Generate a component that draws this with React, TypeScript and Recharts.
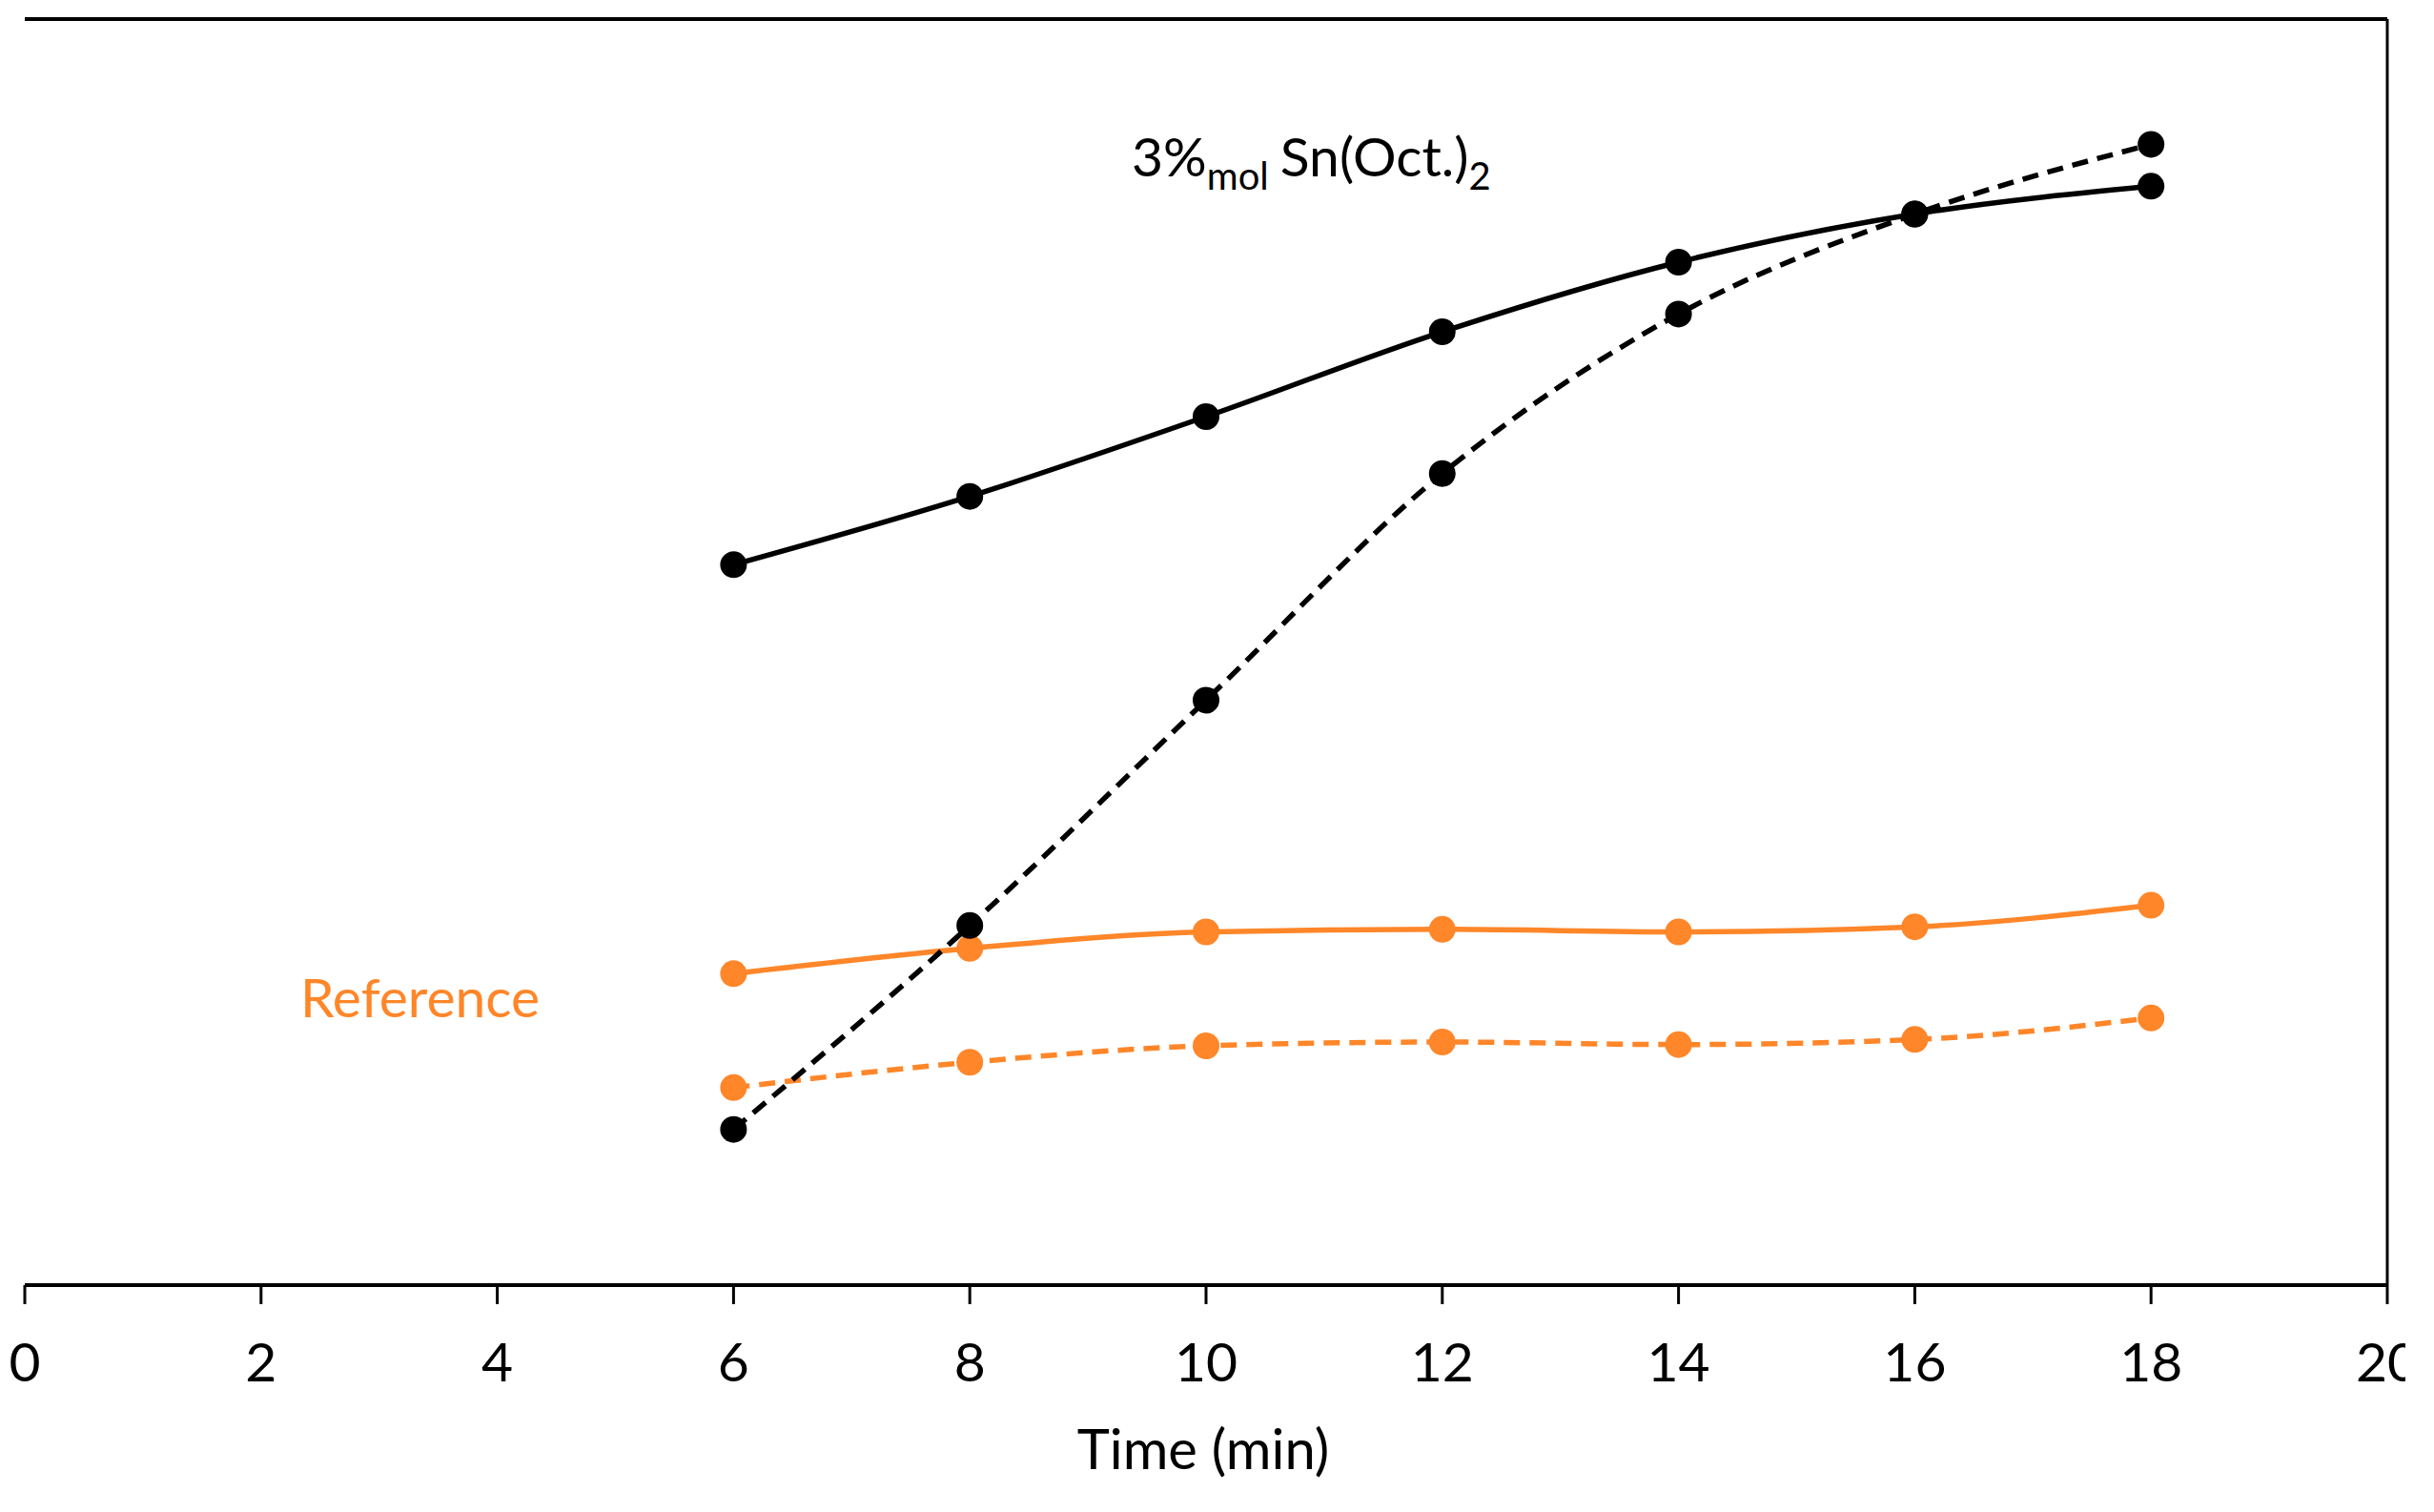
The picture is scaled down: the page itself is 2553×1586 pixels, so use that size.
import React from "react";
import {
  LineChart,
  Line,
  XAxis,
  YAxis,
  ReferenceLine,
  Customized,
} from "recharts";

// time points (min)
const times = [6, 8, 10, 12, 14, 16, 18];

// values (arbitrary y units, 0..100 of the plot height)
const snSolid = [56.9, 62.3, 68.6, 75.3, 80.8, 84.6, 86.8];
const snDashed = [12.3, 28.4, 46.2, 64.1, 76.7, 84.6, 90.1];
const refSolid = [24.6, 26.6, 27.9, 28.1, 27.9, 28.3, 30.0];
const refDashed = [15.6, 17.6, 18.9, 19.2, 19.0, 19.4, 21.1];

const xTicks = [0, 2, 4, 6, 8, 10, 12, 14, 16, 18, 20];

const data = times.map((t, i) => ({
  time: t,
  snSolid: snSolid[i],
  snDashed: snDashed[i],
  refSolid: refSolid[i],
  refDashed: refDashed[i],
}));

const ORANGE = "#FF8629";
const FONT = "Lato, 'Open Sans', sans-serif";

const Annotations = () => (
  <g fontFamily={FONT}>
    <text x={1187} y={185} fontSize={57} fill="#000">
      3%
      <tspan fontSize={40} dy={14}>
        mol
      </tspan>
      <tspan fontSize={57} dx={12} dy={-14}>
        Sn(Oct.)
      </tspan>
      <tspan fontSize={40} dy={14}>
        2
      </tspan>
    </text>
    <text x={315} y={1067} fontSize={57} fill={ORANGE}>
      Reference
    </text>
    <text x={1262} y={1541} fontSize={58} fill="#000" textAnchor="middle">
      Time (min)
    </text>
  </g>
);

const App = () => {
  return (
    <div
      style={{
        position: "absolute",
        left: 0,
        top: 0,
        width: 2553,
        height: 1586,
        background: "#fff",
      }}
    >
      <div style={{ width: 2523, height: 1586, overflow: "hidden" }}>
        <LineChart
          width={2523}
          height={1586}
          data={data}
          margin={{ top: 20, right: 19, left: 26, bottom: 138 }}
        >
          <XAxis
            dataKey="time"
            type="number"
            domain={[0, 20]}
            ticks={xTicks}
            interval={0}
            height={100}
            tickSize={20}
            tickMargin={41}
            axisLine={{ stroke: "#000", strokeWidth: 4 }}
            tickLine={{ stroke: "#000", strokeWidth: 3 }}
            tick={{ fill: "#000", fontSize: 57, fontFamily: FONT }}
          />
          <YAxis
            domain={[0, 100]}
            width={0}
            tick={false}
            tickLine={false}
            axisLine={{ stroke: "#000", strokeWidth: 4 }}
          />
          <ReferenceLine y={100} stroke="#000" strokeWidth={4} />
          <ReferenceLine x={20} stroke="#000" strokeWidth={3} />

          <Line
            dataKey="refSolid"
            type="monotone"
            stroke={ORANGE}
            strokeWidth={5.5}
            dot={{ r: 14, fill: ORANGE, stroke: "none" }}
            isAnimationActive={false}
          />
          <Line
            dataKey="refDashed"
            type="monotone"
            stroke={ORANGE}
            strokeWidth={5.5}
            strokeDasharray="17 10"
            dot={{ r: 14, fill: ORANGE, stroke: "none", strokeDasharray: "0" }}
            isAnimationActive={false}
          />
          <Line
            dataKey="snSolid"
            type="monotone"
            stroke="#000"
            strokeWidth={5.5}
            dot={{ r: 14, fill: "#000", stroke: "none" }}
            isAnimationActive={false}
          />
          <Line
            dataKey="snDashed"
            type="monotone"
            stroke="#000"
            strokeWidth={5.5}
            strokeDasharray="17 10"
            dot={{ r: 14, fill: "#000", stroke: "none", strokeDasharray: "0" }}
            isAnimationActive={false}
          />
          <Customized component={Annotations} />
        </LineChart>
      </div>
    </div>
  );
};

export default App;
